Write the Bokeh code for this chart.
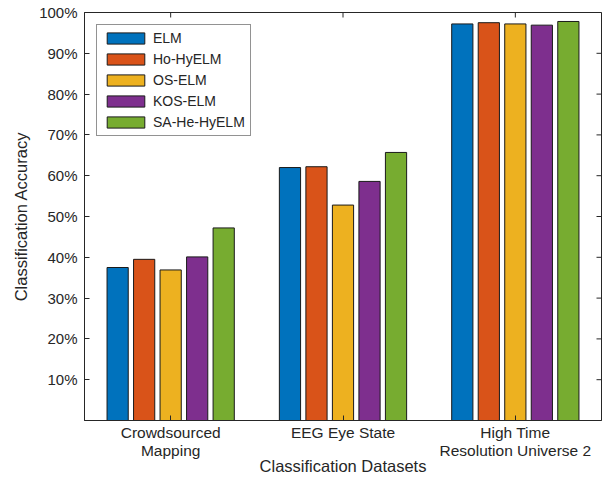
import math
from bokeh.plotting import figure
from bokeh.models import ColumnDataSource, FixedTicker, Range1d, Legend, LegendItem
from bokeh.embed import file_html
from bokeh.resources import INLINE

# ---- data ----
datasets = ["Crowdsourced\nMapping", "EEG Eye State", "High Time\nResolution Universe 2"]
methods = ["ELM", "Ho-HyELM", "OS-ELM", "KOS-ELM", "SA-He-HyELM"]
elm = [37.5, 62.0, 97.2]
ho_hyelm = [39.5, 62.2, 97.5]
os_elm = [36.9, 52.8, 97.2]
kos_elm = [40.1, 58.6, 96.9]
sa_he_hyelm = [47.2, 65.7, 97.8]
series = [elm, ho_hyelm, os_elm, kos_elm, sa_he_hyelm]
colors = ["#0072BD", "#D95319", "#EDB120", "#7E2F8E", "#77AC30"]
y_ticks = [10, 20, 30, 40, 50, 60, 70, 80, 90, 100]
y_tick_labels = ["10%", "20%", "30%", "40%", "50%", "60%", "70%", "80%", "90%", "100%"]
x_title = "Classification Datasets"
y_title = "Classification Accuracy"

FONT = "Liberation Sans"
TXT = "#262626"

X0, X1, Y0, Y1 = 0.5, len(datasets) + 0.5, 0, 100
p = figure(width=603, height=478, output_backend="svg", toolbar_location=None,
           x_range=Range1d(X0, X1), y_range=Range1d(Y0, Y1),
           min_border_left=84, min_border_right=2, min_border_top=12, min_border_bottom=58)
p.background_fill_color = "white"
p.border_fill_color = "white"
p.grid.visible = False
p.outline_line_color = TXT
p.outline_line_width = 1

n = len(series)
groupwidth = min(0.8, n / (n + 1.5))
slot = groupwidth / n
group_x = list(range(1, len(datasets) + 1))

items = []
for i, (vals, col, name) in enumerate(zip(series, colors, methods)):
    off = (2 * i + 1) * groupwidth / (2 * n) - groupwidth / 2
    src = ColumnDataSource(dict(x=[g + off for g in group_x], top=vals))
    r = p.vbar(x="x", top="top", bottom=0, width=slot * 0.8, source=src,
               fill_color=col, line_color="#1a1a1a", line_width=1)
    items.append(LegendItem(label=name, renderers=[r]))

# inward box ticks on right and top edges (half of a dash marker, clipped by the frame)
p.scatter(x=[X1] * len(y_ticks), y=y_ticks, marker="dash", size=10,
          line_color=TXT, line_width=1)
p.scatter(x=group_x, y=[Y1] * len(group_x), marker="dash", size=10, angle=math.pi / 2,
          line_color=TXT, line_width=1)

xa = p.xaxis[0]
xa.ticker = FixedTicker(ticks=group_x)
xa.major_label_overrides = {g: lab for g, lab in zip(group_x, datasets)}
xa.axis_label = x_title
ya = p.yaxis[0]
ya.ticker = FixedTicker(ticks=y_ticks)
ya.major_label_overrides = {t: lab for t, lab in zip(y_ticks, y_tick_labels)}
ya.axis_label = y_title

for ax in (xa, ya):
    ax.axis_line_color = TXT
    ax.major_tick_line_color = TXT
    ax.major_tick_in = 5
    ax.major_tick_out = 0
    ax.minor_tick_line_color = None
    ax.major_label_text_font = FONT
    ax.major_label_text_font_size = "15px"
    ax.major_label_text_color = TXT
    ax.axis_label_text_font = FONT
    ax.axis_label_text_font_size = "16.5px"
    ax.axis_label_text_font_style = "normal"
    ax.axis_label_text_color = TXT
xa.major_label_text_font_size = "15.5px"
xa.major_label_standoff = 3
xa.major_label_text_line_height = 1.1
xa.axis_label_standoff = -5
xa.axis_label_text_line_height = 1.0
ya.major_label_standoff = 7
ya.axis_label_standoff = 6

legend = Legend(items=items, location="top_left", margin=12, padding=5, spacing=5,
                glyph_width=47, glyph_height=14, label_height=14, label_standoff=4,
                label_text_font=FONT, label_text_font_size="14px", label_text_color=TXT,
                border_line_color=TXT, border_line_width=1, background_fill_color="white",
                background_fill_alpha=1)
p.add_layout(legend, "center")

open("out.html", "w").write(file_html(p, INLINE))
